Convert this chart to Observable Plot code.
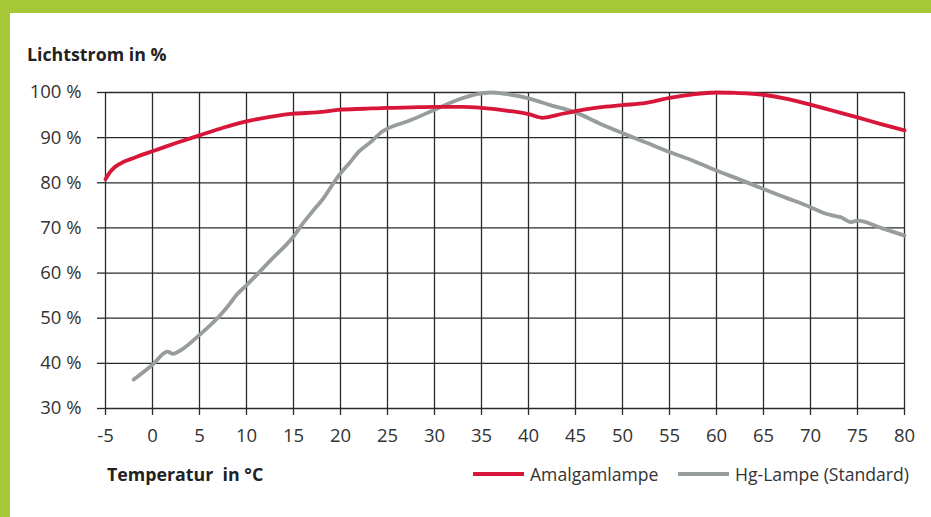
<!DOCTYPE html>
<html>
<head>
<meta charset="utf-8">
<script src="https://cdn.jsdelivr.net/npm/d3@7"></script>
<script src="https://cdn.jsdelivr.net/npm/@observablehq/plot@0.6"></script>
<style>
  html, body { margin: 0; padding: 0; }
  body { width: 931px; height: 517px; position: relative; overflow: hidden; background: #a6c837; font-family: "Open Sans", sans-serif; color: #333; }
  #panel { position: absolute; left: 10px; top: 13px; right: 0; bottom: 0; background: #fff; }
  #chart { position: absolute; left: 0; top: 0; }
  .lbl { position: absolute; font-weight: bold; font-size: 17.8px; color: #222; white-space: nowrap; line-height: 24px; }
  .leg { position: absolute; font-size: 17.6px; color: #333; white-space: nowrap; display: flex; align-items: center; line-height: 24px; }
  .sw { display: inline-block; width: 51px; height: 4px; margin-right: 6px; }
</style>
</head>
<body>
<div id="panel"></div>
<div id="chart"></div>
<div class="lbl" style="left:27px; top:42px;">Lichtstrom in %</div>
<div class="lbl" style="left:107px; top:462px;">Temperatur&nbsp; in °C</div>
<div class="leg" style="left:473px; top:462px;"><span class="sw" style="background:#d7163a"></span>Amalgamlampe</div>
<div class="leg" style="left:678px; top:462px;"><span class="sw" style="background:#979d9c"></span>Hg-Lampe (Standard)</div>
<script>
const xTicks = [-5, 0, 5, 10, 15, 20, 25, 30, 35, 40, 45, 50, 55, 60, 65, 70, 75, 80];
const yTicks = [30, 40, 50, 60, 70, 80, 90, 100];

const amalgamTemp = [-5, -4.5, -4, -3, -2, -1, 0, 2.5, 5, 7.5, 10, 12.5, 15, 17.5, 20, 22.5, 25, 27.5, 30, 33, 35, 38, 40, 41.5, 43, 45, 47.5, 50, 52.5, 55, 57.5, 60, 62, 65, 67.5, 70, 72.5, 75, 77.5, 80];
const amalgamValue = [80.8, 82.4, 83.5, 84.7, 85.5, 86.3, 87.0, 88.8, 90.5, 92.2, 93.6, 94.6, 95.3, 95.6, 96.2, 96.4, 96.6, 96.7, 96.8, 96.8, 96.6, 95.9, 95.2, 94.4, 95.0, 95.9, 96.7, 97.2, 97.7, 98.8, 99.6, 100, 99.9, 99.5, 98.6, 97.3, 95.9, 94.5, 93.0, 91.6];

const hgTemp = [-2, 0, 1.6, 2.2, 3, 5, 7, 8, 9, 10, 12.5, 15, 16, 17, 18.2, 19.6, 21, 22, 23.2, 24.4, 25, 27.5, 30, 32.5, 35, 36, 37.5, 40, 42.5, 45, 47.5, 50, 52.5, 55, 57.5, 60, 62.5, 65, 67.5, 70, 71.4, 72.7, 73.2, 74.3, 75, 77.5, 80];
const hgValue = [36.4, 39.7, 42.6, 42.1, 42.9, 46.3, 50.2, 52.6, 55.3, 57.3, 62.7, 68.1, 71.0, 73.6, 76.6, 81.0, 84.5, 87.0, 89.0, 91.3, 92.0, 93.9, 96.2, 98.4, 99.8, 100, 99.7, 98.7, 97.1, 95.6, 93.2, 91.0, 88.9, 86.8, 84.9, 82.7, 80.7, 78.6, 76.6, 74.6, 73.3, 72.6, 72.4, 71.3, 71.6, 70.0, 68.3];

const amalgam = amalgamTemp.map((t, i) => ({t, v: amalgamValue[i]}));
const hg = hgTemp.map((t, i) => ({t, v: hgValue[i]}));

const chart = Plot.plot({
  width: 931,
  height: 517,
  marginLeft: 105,
  marginRight: 27,
  marginTop: 92,
  marginBottom: 109,
  style: {fontFamily: "Open Sans, sans-serif", fontSize: "18.5px", color: "#333", background: "transparent", overflow: "visible"},
  x: {domain: [-5, 80]},
  y: {domain: [30, 100]},
  marks: [
    Plot.gridX(xTicks, {stroke: "#2a2a2a", strokeOpacity: 1, strokeWidth: 1.3}),
    Plot.gridY(yTicks, {stroke: "#2a2a2a", strokeOpacity: 1, strokeWidth: 1.3}),
    Plot.axisX(xTicks, {tickSize: 7, tickPadding: 13, tickFormat: d => String(d), label: null, stroke: "#2a2a2a", strokeWidth: 1.3, fill: "#333"}),
    Plot.axisY(yTicks, {tickSize: 8, tickPadding: 16, tickFormat: d => d + " %", label: null, stroke: "#2a2a2a", strokeWidth: 1.3, fill: "#333"}),
    Plot.line(hg, {x: "t", y: "v", stroke: "#979d9c", strokeWidth: 3.8, curve: "monotone-x"}),
    Plot.line(amalgam, {x: "t", y: "v", stroke: "#d7163a", strokeWidth: 3.8, curve: "monotone-x"})
  ]
});
document.getElementById("chart").appendChild(chart);
</script>
</body>
</html>
